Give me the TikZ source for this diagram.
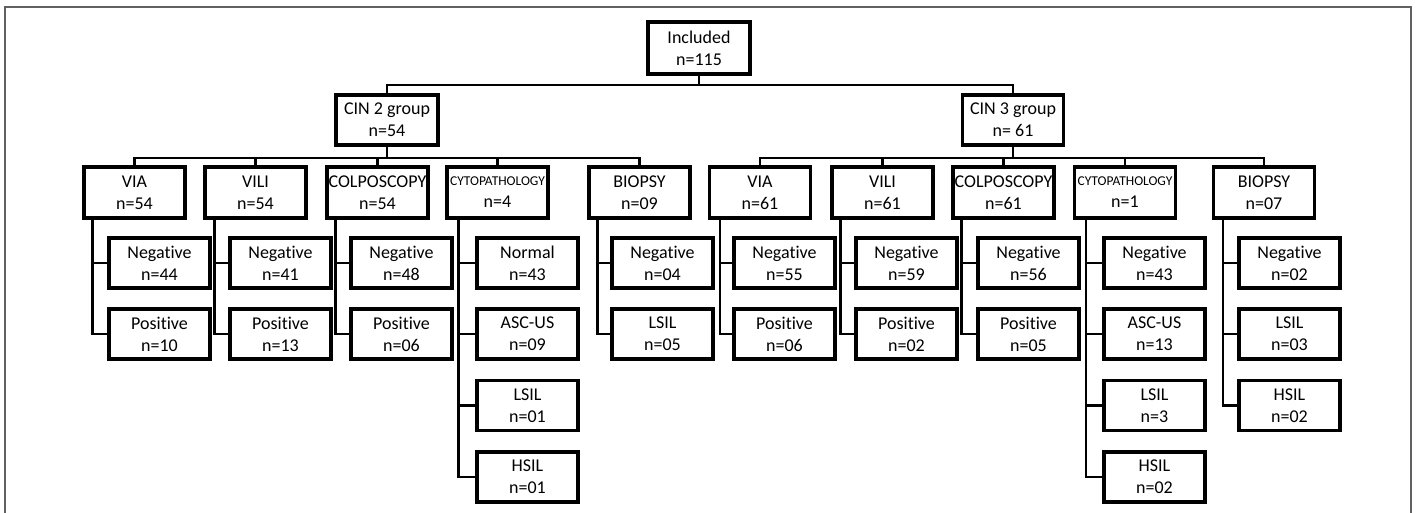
\documentclass[tikz,border=0pt]{standalone}
\usepackage{fontspec}
\setmainfont{Carlito}[Ligatures={NoCommon}]
\begin{document}
\begin{tikzpicture}[x=1pt,y=-1pt,
  box/.style={draw=black,line width=3.2pt,minimum width=101pt,minimum height=50pt,inner sep=0pt,align=center,
    font=\fontsize{18}{22}\selectfont},
  conn/.style={draw=black,line width=2.8pt},
  frame/.style={draw=black!62,line width=1.2pt}]
\newcommand{\cyto}{{\fontsize{13.5}{22}\selectfont CYTOPATHOLOGY}}
\clip (0,0) rectangle (1416,513);
\useasboundingbox (0,0) rectangle (1416,513);
\fill[white] (0,0) rectangle (1416,513);
\draw[frame] (5,7) rectangle (1411,530);

% level 1
\node[box,minimum width=102pt,minimum height=52pt] (inc) at (699,48) {Included\\n=115};
\coordinate (j0) at (699,85);
% level 2
\node[box,minimum width=102pt] (cinA) at (387,120) {CIN 2 group\\n=54};
\node[box,minimum width=101pt] (cinB) at (1013,120) {CIN 3 group\\n= 61};
\coordinate (jA) at (387,158);
\coordinate (jB) at (1013,158);

% level 3 left
\node[box,minimum height=51pt] (aVIA) at (134.5,192.5) {VIA\\n=54};
\node[box,minimum height=51pt] (aVILI) at (255.5,192.5) {VILI\\n=54};
\node[box,minimum height=51pt] (aCOL) at (377.5,192.5) {COLPOSCOPY\\n=54};
\node[box,minimum height=51pt] (aCYT) at (497.5,192.5) {\cyto\\n=4};
\node[box,minimum height=51pt] (aBIO) at (639.5,192.5) {BIOPSY\\n=09};
% level 3 right
\node[box,minimum height=51pt] (bVIA) at (760,192.5) {VIA\\n=61};
\node[box,minimum height=51pt] (bVILI) at (882.5,192.5) {VILI\\n=61};
\node[box,minimum height=51pt] (bCOL) at (1003.5,192.5) {COLPOSCOPY\\n=61};
\node[box,minimum height=51pt] (bCYT) at (1125,192.5) {\cyto\\n=1};
\node[box,minimum height=51pt] (bBIO) at (1264,192.5) {BIOPSY\\n=07};

% level 4 left
\node[box] (aVIA1) at (159.5,263) {Negative\\n=44};
\node[box] (aVIA2) at (159.5,334) {Positive\\n=10};
\node[box] (aVILI1) at (280.5,263) {Negative\\n=41};
\node[box] (aVILI2) at (280.5,334) {Positive\\n=13};
\node[box] (aCOL1) at (401.5,263) {Negative\\n=48};
\node[box] (aCOL2) at (401.5,334) {Positive\\n=06};
\node[box] (aCYT1) at (527.5,263) {Normal\\n=43};
\node[box] (aCYT2) at (527.5,334) {ASC-US\\n=09};
\node[box] (aCYT3) at (527.5,405.5) {LSIL\\n=01};
\node[box] (aCYT4) at (527.5,477) {HSIL\\n=01};
\node[box] (aBIO1) at (662.5,263) {Negative\\n=04};
\node[box] (aBIO2) at (662.5,334) {LSIL\\n=05};
% level 4 right
\node[box] (bVIA1) at (784.5,263) {Negative\\n=55};
\node[box] (bVIA2) at (784.5,334) {Positive\\n=06};
\node[box] (bVILI1) at (906.5,263) {Negative\\n=59};
\node[box] (bVILI2) at (906.5,334) {Positive\\n=02};
\node[box] (bCOL1) at (1028.5,263) {Negative\\n=56};
\node[box] (bCOL2) at (1028.5,334) {Positive\\n=05};
\node[box] (bCYT1) at (1154.5,263) {Negative\\n=43};
\node[box] (bCYT2) at (1154.5,334) {ASC-US\\n=13};
\node[box] (bCYT3) at (1154.5,405.5) {LSIL\\n=3};
\node[box] (bCYT4) at (1154.5,477) {HSIL\\n=02};
\node[box] (bBIO1) at (1289.5,263) {Negative\\n=02};
\node[box] (bBIO2) at (1289.5,334) {LSIL\\n=03};
\node[box] (bBIO3) at (1289.5,405.5) {HSIL\\n=02};

% connectors level 1-2
\draw[conn] (inc.south) -- (j0);
\draw[conn] (cinA.north) |- (j0) -| (cinB.north);
% level 2-3
\draw[conn] (cinA.south) -- (jA);
\draw[conn] (aVIA.north) |- (jA) -| (aBIO.north);
\foreach \n in {aVILI,aCOL,aCYT} \draw[conn] (\n.north) -- (\n.north |- jA);
\draw[conn] (cinB.south) -- (jB);
\draw[conn] (bVIA.north) |- (jB) -| (bBIO.north);
\foreach \n in {bVILI,bCOL,bCYT} \draw[conn] (\n.north) -- (\n.north |- jB);

% level 3-4 trunks
\foreach \p/\s/\last in {aVIA/10/2,aVILI/11/2,aCOL/10/2,aCYT/13/4,aBIO/10/2,
                         bVIA/12/2,bVILI/10/2,bCOL/10/2,bCYT/13/4,bBIO/11/3}{
  \foreach \k in {1,...,\last}
    \draw[conn] ([xshift=\s pt]\p.south west) |- (\p\k.west);
}
\end{tikzpicture}
\end{document}
